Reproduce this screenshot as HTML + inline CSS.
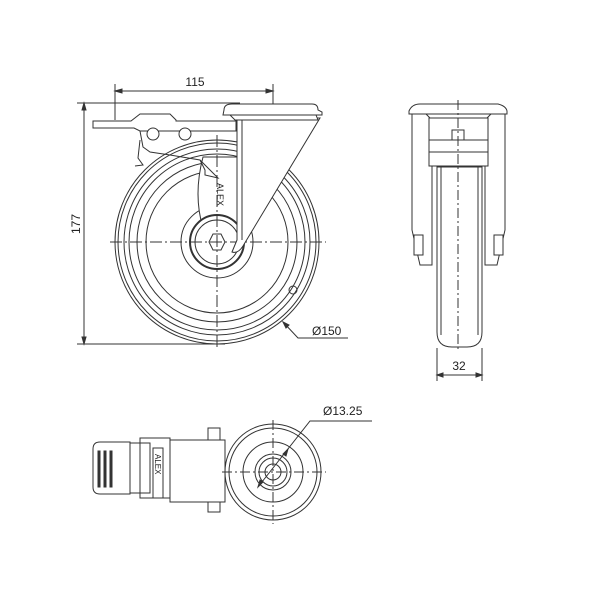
<!DOCTYPE html>
<html><head><style>html,body{margin:0;padding:0;background:#fff}svg{display:block}</style></head><body>
<svg width="600" height="600" viewBox="0 0 600 600" xmlns="http://www.w3.org/2000/svg" font-family="Liberation Sans, sans-serif">
<rect width="600" height="600" fill="#fff"/>
<g fill="none" stroke="#333" stroke-width="1">
<line x1="84" y1="103" x2="84" y2="344"/>
<line x1="77" y1="103" x2="240" y2="103"/>
<line x1="77" y1="344" x2="225" y2="344"/>
<line x1="115" y1="84" x2="115" y2="120"/>
<line x1="273" y1="84" x2="273" y2="105"/>
<line x1="273" y1="105" x2="273" y2="156" stroke-dasharray="8,3,2,3"/>
<line x1="115" y1="91" x2="273" y2="91"/>
<path d="M115 91 l7 -2 v4z M273 91 l-7 -2 v4z M84 103 l-2 7 h4z M84 344 l-2 -7 h4z" fill="#333"/>
<circle cx="217" cy="242" r="102"/>
<circle cx="217" cy="242" r="99"/>
<circle cx="217" cy="242" r="93"/>
<circle cx="217" cy="242" r="88"/>
<circle cx="217" cy="242" r="80"/>
<circle cx="217" cy="242" r="71"/>
<circle cx="217" cy="242" r="36"/>
<path d="M203 157 L237 157 L237 238 L203 228 Q193 195 203 157 Z" fill="#fff"/>
<circle cx="217" cy="242" r="27" stroke-width="2" fill="#fff"/>
<circle cx="217" cy="242" r="22"/>
<polygon points="209,242 213,234 221,234 225,242 221,250 213,250" fill="#fff"/>
<circle cx="293" cy="290" r="4"/>
<line x1="110" y1="242" x2="326" y2="242" stroke-dasharray="12,3,2,3"/>
<line x1="217" y1="135" x2="217" y2="348" stroke-dasharray="12,3,2,3"/>
<path d="M237 118 L320 118 L243 246 Q238 254 232 252 L237 240 Z" fill="#fff"/>
<line x1="237" y1="118" x2="237" y2="240"/>
<line x1="242" y1="118" x2="242" y2="240"/>
<path d="M224 110 Q224 104 232 104 L312 104 Q318 104 318 110 L322 112 L322 115 L223 115 Z" fill="#fff"/>
<path d="M230 115 L316 115 L318 120 L235 120 Z" fill="#fff"/>
<path d="M93 121 L131 121 L140 114 L170 114 L176 120 L176 121 L236 121 L236 131 L176 131 L176 131 L140 131 L134 128 L93 128 Z" fill="#fff"/>
<path d="M140 131 L143 147 L150 152 L170 155 L200 160 L205 170 L205 175 L218 178 L200 160" fill="none"/>
<path d="M140 140 L138 158 L143 165 L135 166"/>
<circle cx="153" cy="134" r="6" fill="#fff"/>
<circle cx="185" cy="134" r="6" fill="#fff"/>
<polyline points="283,322 298,338 348,338"/>
<path d="M283 322 l6 3 l-3 3z" fill="#333"/>
<path d="M409 111 Q412 104 420 104 L498 104 Q506 106 507 111 L507 114 L409 114 Z" fill="#fff"/>
<path d="M412 114 L412 230 L420 265 L432 265 L432 120 L426 114 Z"/>
<path d="M505 114 L505 230 L497 265 L485 265 L485 120 L491 114 Z"/>
<rect x="429" y="118" width="59" height="48" fill="#fff"/>
<line x1="429" y1="140" x2="488" y2="140"/>
<line x1="429" y1="152" x2="488" y2="152"/>
<rect x="452" y="130" width="12" height="10"/>
<path d="M437 167 L437 332 Q437 347 452 347 L467 347 Q482 347 482 332 L482 167 Z" fill="#fff"/>
<line x1="441" y1="167" x2="441" y2="335"/>
<line x1="478" y1="167" x2="478" y2="335"/>
<rect x="414" y="235" width="9" height="20" fill="#fff"/>
<rect x="494" y="235" width="9" height="20" fill="#fff"/>
<line x1="458" y1="100" x2="458" y2="350" stroke-dasharray="10,3,2,3"/>
<line x1="437" y1="348" x2="437" y2="381"/>
<line x1="482" y1="348" x2="482" y2="381"/>
<line x1="437" y1="375" x2="482" y2="375"/>
<path d="M437 375 l6 -2 v4z M482 375 l-6 -2 v4z" fill="#333"/>
<path d="M100 442 L130 442 L130 494 L100 494 Q93 494 93 487 L93 449 Q93 442 100 442 Z"/>
<rect x="98" y="451" width="2" height="36" fill="#333"/>
<rect x="104" y="451" width="2" height="36" fill="#333"/>
<rect x="110" y="451" width="2" height="36" fill="#333"/>
<rect x="130" y="443" width="20" height="50"/>
<rect x="140" y="438" width="30" height="60"/>
<rect x="153" y="448" width="10" height="50"/>
<rect x="170" y="440" width="55" height="62"/>
<rect x="208" y="428" width="12" height="12"/>
<rect x="208" y="502" width="12" height="10"/>
<circle cx="273" cy="472" r="48" fill="#fff"/>
<circle cx="273" cy="472" r="44"/>
<circle cx="273" cy="472" r="30"/>
<circle cx="273" cy="472" r="18"/>
<circle cx="273" cy="472" r="14"/>
<circle cx="273" cy="472" r="8"/>
<line x1="222" y1="472" x2="326" y2="472" stroke-dasharray="10,3,2,3"/>
<line x1="273" y1="420" x2="273" y2="524" stroke-dasharray="10,3,2,3"/>
<polyline points="258,487 310,421 372,421"/>
<path d="M258 487 l2 -7 l3 2z M288 449 l-2 7 l-3 -2z" fill="#333"/>
</g>
<g fill="#222" font-size="12">
<text x="195" y="86" text-anchor="middle">115</text>
<text x="80" y="224" text-anchor="middle" transform="rotate(-90 80 224)">177</text>
<text x="312" y="335">Ø150</text>
<text x="459" y="370" text-anchor="middle">32</text>
<text x="323" y="415">Ø13.25</text>
<text x="217" y="183" font-size="9" transform="rotate(90 217 183)">ALEX</text>
<text x="155" y="454" font-size="8" transform="rotate(90 155 454)">ALEX</text>
</g>
</svg>
</body></html>
